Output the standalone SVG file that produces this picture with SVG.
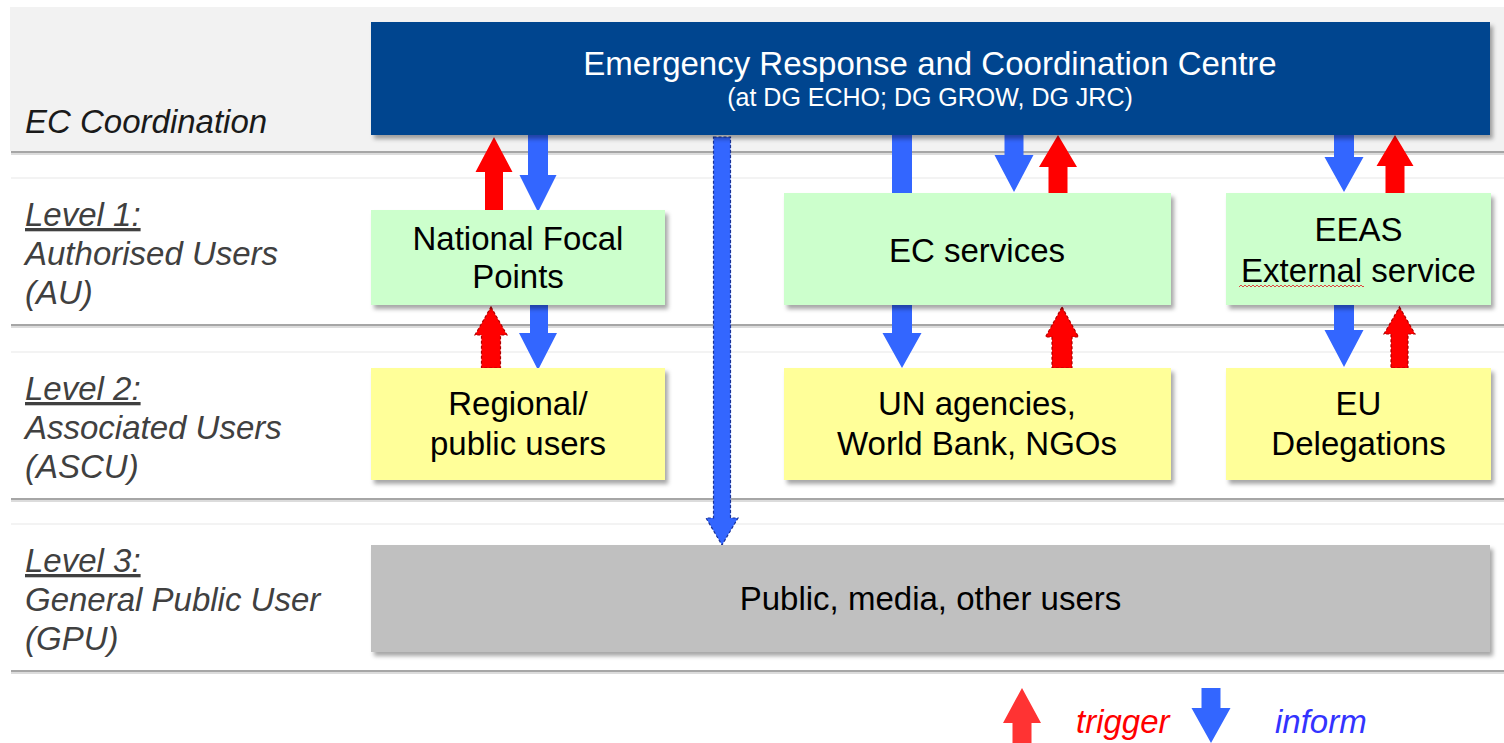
<svg xmlns="http://www.w3.org/2000/svg" width="1504" height="743" viewBox="0 0 1504 743">
<style>
  .lbl { font-family: "Liberation Sans", Arial, sans-serif; font-style: italic; font-size: 33px; fill: #404040; }
  .lblk { font-family: "Liberation Sans", Arial, sans-serif; font-style: italic; font-size: 33px; fill: #1a1a1a; }
  .u { text-decoration: underline; }
  .bt { font-family: "Liberation Sans", Arial, sans-serif; font-size: 33px; fill: #000; text-anchor: middle; }
  .tt { font-family: "Liberation Sans", Arial, sans-serif; fill: #fff; text-anchor: middle; }
  .green { fill: #ccffcc; }
  .yellow { fill: #ffff99; }
  .red { fill: #ff0000; }
  .blue { fill: #3366ff; }
  .reddash { fill: #ff0000; stroke: #b00000; stroke-width: 1.2; stroke-dasharray: 3 2; }
  .bluedash { fill: #3366ff; stroke: #1a3399; stroke-width: 1.2; stroke-dasharray: 3 2; }
  .band { stroke: #a6a6a6; stroke-width: 2; }
  .bandsh { stroke: #dcdcdc; stroke-width: 2; }
  .faint { stroke: #f3f3f3; stroke-width: 2; }
</style>
<defs>
  <filter id="sh" x="-5%" y="-10%" width="112%" height="130%">
    <feDropShadow dx="3" dy="4" stdDeviation="2" flood-color="#000" flood-opacity="0.35"/>
  </filter>
  <pattern id="wave" x="1239" y="284" width="4" height="4" patternUnits="userSpaceOnUse">
    <path d="M0,3 L2,1 L4,3" fill="none" stroke="#e03030" stroke-width="0.9"/>
  </pattern>
</defs>
<rect width="1504" height="743" fill="#fff"/>

<g id="bands">
  <rect x="10" y="7" width="1494" height="144" fill="#f2f2f2"/>
  <line class="bandsh" x1="11" y1="154" x2="1504" y2="154"/>
  <line class="band" x1="11" y1="152" x2="1504" y2="152"/>
  <line class="faint" x1="11" y1="178" x2="1504" y2="178"/>
  <line class="bandsh" x1="11" y1="327" x2="1504" y2="327"/>
  <line class="band" x1="11" y1="325" x2="1504" y2="325"/>
  <line class="faint" x1="11" y1="352" x2="1504" y2="352"/>
  <line class="bandsh" x1="11" y1="501" x2="1504" y2="501"/>
  <line class="band" x1="11" y1="499" x2="1504" y2="499"/>
  <line class="faint" x1="11" y1="524" x2="1504" y2="524"/>
  <line class="bandsh" x1="11" y1="673" x2="1504" y2="673"/>
  <line class="band" x1="11" y1="671" x2="1504" y2="671"/>
</g>

<g id="level-labels">
  <text class="lblk" x="25" y="133">EC Coordination</text>
  <text class="lbl u" x="25" y="226">Level 1:</text>
  <text class="lbl" x="25" y="265">Authorised Users</text>
  <text class="lbl" x="25" y="304">(AU)</text>
  <text class="lbl u" x="25" y="400">Level 2:</text>
  <text class="lbl" x="25" y="439">Associated Users</text>
  <text class="lbl" x="25" y="478">(ASCU)</text>
  <text class="lbl u" x="25" y="572">Level 3:</text>
  <text class="lbl" x="25" y="611">General Public User</text>
  <text class="lbl" x="25" y="650">(GPU)</text>
</g>

<g id="connectors">
  <!-- NFP -->
  <polygon class="red" points="494,137 512.5,172 503,172 503,212 485,212 485,172 475.5,172"/>
  <polygon class="blue" points="528,133 548,133 548,175 556.5,175 538,212 519.5,175 528,175"/>
  <polygon class="reddash" points="491,307 507,335 500.5,335 500.5,368 481.5,368 481.5,335 475,335"/>
  <polygon class="blue" points="530,303 548,303 548,333 557,333 538,370 519,333 530,333"/>
  <!-- long dashed to public -->
  <polygon class="bluedash" points="713.5,137 730.5,137 730.5,518 738,518 722,545 706,518 713.5,518"/>
  <!-- EC services -->
  <polygon class="blue" points="892,133 912,133 912,333 921.5,333 902,368 882.5,333 892,333"/>
  <polygon class="blue" points="1004.5,133 1023.5,133 1023.5,155 1033.5,155 1014,192 994.5,155 1004.5,155"/>
  <polygon class="red" points="1058,135 1077,167 1067.5,167 1067.5,195 1048.5,195 1048.5,167 1039,167"/>
  <polygon class="reddash" points="1062,307 1078.5,337 1072,337 1072,368 1052,368 1052,337 1045.5,337"/>
  <!-- EEAS -->
  <polygon class="blue" points="1334,133 1354,133 1354,157 1363.5,157 1344,192 1324.5,157 1334,157"/>
  <polygon class="red" points="1395,135 1413.5,166 1404.5,166 1404.5,195 1385.5,195 1385.5,166 1376.5,166"/>
  <polygon class="blue" points="1334,303 1354,303 1354,330 1363.5,330 1344,367 1324.5,330 1334,330"/>
  <polygon class="reddash" points="1399.5,307 1415,334 1408,334 1408,368 1391,368 1391,334 1384,334"/>
</g>

<g id="ercc">
  <rect x="371" y="22" width="1119" height="113" fill="#03458f" filter="url(#sh)"/>
  <text class="tt" x="930" y="75" font-size="33">Emergency Response and Coordination Centre</text>
  <text class="tt" x="930" y="106" font-size="25">(at DG ECHO; DG GROW, DG JRC)</text>
</g>

<g id="national-focal-points">
  <rect class="green" x="371" y="210" width="294" height="95" filter="url(#sh)"/>
  <text class="bt" x="518" y="250">National Focal</text>
  <text class="bt" x="518" y="288">Points</text>
</g>

<g id="ec-services">
  <rect class="green" x="784" y="193" width="387" height="112" filter="url(#sh)"/>
  <text class="bt" x="977" y="262">EC services</text>
</g>

<g id="eeas">
  <rect class="green" x="1226" y="193" width="265" height="112" filter="url(#sh)"/>
  <text class="bt" x="1358.5" y="241">EEAS</text>
  <text class="bt" x="1358.5" y="282">External service</text>
  <rect x="1239" y="284" width="125" height="4" fill="url(#wave)"/>
</g>

<g id="regional-users">
  <rect class="yellow" x="371" y="368" width="294" height="112" filter="url(#sh)"/>
  <text class="bt" x="518" y="415">Regional/</text>
  <text class="bt" x="518" y="455">public users</text>
</g>

<g id="un-agencies">
  <rect class="yellow" x="784" y="368" width="387" height="112" filter="url(#sh)"/>
  <text class="bt" x="977" y="415">UN agencies,</text>
  <text class="bt" x="977" y="455">World Bank, NGOs</text>
</g>

<g id="eu-delegations">
  <rect class="yellow" x="1226" y="368" width="265" height="112" filter="url(#sh)"/>
  <text class="bt" x="1358.5" y="415">EU</text>
  <text class="bt" x="1358.5" y="455">Delegations</text>
</g>

<g id="public">
  <rect x="371" y="545" width="1119" height="107" fill="#c0c0c0" filter="url(#sh)"/>
  <text class="bt" x="930.5" y="610">Public, media, other users</text>
</g>

<g id="legend">
  <polygon fill="#ff3333" points="1022,688 1041,723 1031.5,723 1031.5,743 1012.5,743 1012.5,723 1003,723"/>
  <text x="1076" y="733" font-family="Liberation Sans, Arial, sans-serif" font-style="italic" font-size="33" fill="#ff0000">trigger</text>
  <polygon fill="#3366ff" points="1201.5,688 1220.5,688 1220.5,708 1230.5,708 1211,743 1191.5,708 1201.5,708"/>
  <text x="1275" y="733" font-family="Liberation Sans, Arial, sans-serif" font-style="italic" font-size="33" fill="#3333ff">inform</text>
</g>
</svg>
